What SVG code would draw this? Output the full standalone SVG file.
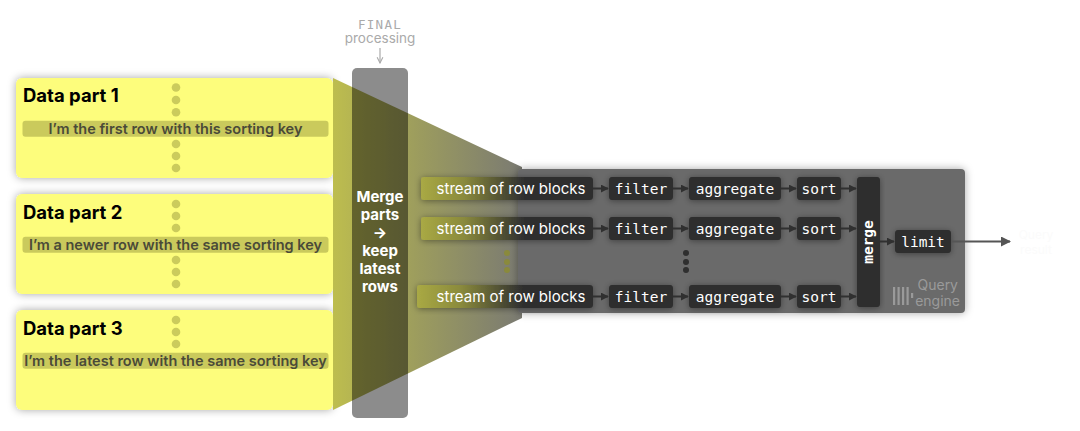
<svg xmlns="http://www.w3.org/2000/svg" width="1080" height="431" viewBox="0 0 1080 431">
<style>
.part{fill:#fdfd7b}
.title{font-family:Inter,"Liberation Sans",sans-serif;font-weight:700;font-size:18.5px;fill:#000}
.rowbar{fill:#caca5c}
.rowtxt{font-family:Inter,"Liberation Sans",sans-serif;font-weight:600;font-size:14.5px;fill:#4a4a38}
.dot{fill:#cbcb5c}
.mtxt{font-family:Inter,"Liberation Sans",sans-serif;font-weight:700;font-size:15px;fill:#fff}
.stxt{font-family:Inter,"Liberation Sans",sans-serif;font-size:15px;fill:#fff}
.op{fill:#2f2f2f}
.otxt{font-family:"DejaVu Sans Mono","Liberation Mono",monospace;font-size:14.5px;fill:#fff}
.arr{stroke:#303030;stroke-width:2;fill:none}
.logo{font-family:Inter,"Liberation Sans",sans-serif;font-size:14px;fill:#9a9a9a}
</style>
<defs>
<filter id="sh" x="-20%" y="-30%" width="140%" height="160%">
<feDropShadow dx="0" dy="0" stdDeviation="4" flood-color="#000" flood-opacity="0.35"/>
</filter>
<filter id="sh2" x="-20%" y="-30%" width="140%" height="160%">
<feDropShadow dx="0" dy="1" stdDeviation="3" flood-color="#000" flood-opacity="0.4"/>
</filter>
<linearGradient id="fun" x1="333" y1="0" x2="522" y2="0" gradientUnits="userSpaceOnUse">
<stop offset="0" stop-color="#bdbd4e"/>
<stop offset="0.45" stop-color="#9c9c5e"/>
<stop offset="1" stop-color="#7a7a72"/>
</linearGradient>
<linearGradient id="str" x1="0" y1="0" x2="1" y2="0">
<stop offset="0" stop-color="#a9a944"/>
<stop offset="0.25" stop-color="#8a8a3c"/>
<stop offset="0.6" stop-color="#2f2f2f"/>
<stop offset="1" stop-color="#2f2f2f"/>
</linearGradient>
<marker id="ah" viewBox="0 0 10 10" refX="9" refY="5" markerWidth="4" markerHeight="4" orient="auto">
<path d="M0,0 L10,5 L0,10 z" fill="#303030"/>
</marker>
<marker id="ah2" viewBox="0 0 10 10" refX="9" refY="5" markerWidth="5" markerHeight="5" orient="auto">
<path d="M0,0 L10,5 L0,10 z" fill="#555"/>
</marker>
<marker id="ah3" viewBox="0 0 10 10" refX="9" refY="5" markerWidth="6" markerHeight="6" orient="auto">
<path d="M1,1 L9,5 L1,9" fill="none" stroke="#aaa" stroke-width="1.5"/>
</marker>
</defs>
<rect width="1080" height="431" fill="#fff"/>

<g id="part1">
<rect class="part" x="16" y="78" width="317" height="100" rx="6" filter="url(#sh)"/>
<text class="title" x="23" y="102">Data part 1</text>
<circle class="dot" cx="176" cy="87.5" r="4.3"/>
<circle class="dot" cx="176" cy="100" r="4.3"/>
<circle class="dot" cx="176" cy="112.3" r="4.3"/>
<rect class="rowbar" x="22.5" y="120.7" width="306" height="16" rx="3"/>
<text class="rowtxt" x="175.5" y="133.5" text-anchor="middle">I’m the first row with this sorting key</text>
<circle class="dot" cx="176" cy="144" r="4.3"/>
<circle class="dot" cx="176" cy="156" r="4.3"/>
<circle class="dot" cx="176" cy="168" r="4.3"/>
</g>

<g id="part2">
<rect class="part" x="16" y="194" width="317" height="100" rx="6" filter="url(#sh)"/>
<text class="title" x="23" y="219">Data part 2</text>
<circle class="dot" cx="176" cy="204" r="4.3"/>
<circle class="dot" cx="176" cy="216" r="4.3"/>
<circle class="dot" cx="176" cy="228" r="4.3"/>
<rect class="rowbar" x="22.5" y="236.7" width="306" height="16" rx="3"/>
<text class="rowtxt" x="175.5" y="249.5" text-anchor="middle">I’m a newer row with the same sorting key</text>
<circle class="dot" cx="176" cy="260" r="4.3"/>
<circle class="dot" cx="176" cy="272" r="4.3"/>
<circle class="dot" cx="176" cy="284" r="4.3"/>
</g>

<g id="part3">
<rect class="part" x="16" y="310" width="317" height="100" rx="6" filter="url(#sh)"/>
<text class="title" x="23" y="335">Data part 3</text>
<circle class="dot" cx="176" cy="320" r="4.3"/>
<circle class="dot" cx="176" cy="332" r="4.3"/>
<circle class="dot" cx="176" cy="344" r="4.3"/>
<rect class="rowbar" x="22.5" y="352.7" width="306" height="16" rx="3"/>
<text class="rowtxt" x="175.5" y="365.5" text-anchor="middle">I’m the latest row with the same sorting key</text>
</g>

<g id="funnel">
<polygon points="333,78 522,167 522,318 333,410" fill="url(#fun)"/>
</g>

<g id="engine">
<rect x="518" y="169" width="447" height="144" rx="4" fill="#6b6b6b" filter="url(#sh)"/>
<g fill="#9a9a9a">
<rect x="893" y="287" width="2.2" height="18"/>
<rect x="897.5" y="287" width="2.2" height="18"/>
<rect x="902" y="287" width="2.2" height="18"/>
<rect x="906.5" y="287" width="2.2" height="18"/>
<rect x="911" y="293" width="2.2" height="5"/>
</g>
<text class="logo" x="958" y="290" text-anchor="end">Query</text>
<text class="logo" x="960" y="306" text-anchor="end">engine</text>
</g>

<g id="final">
<text x="380" y="28.5" text-anchor="middle" font-family="'DejaVu Sans Mono','Liberation Mono',monospace" font-size="12.5" letter-spacing="1.3" fill="#aaa">FINAL</text>
<text x="380" y="43" text-anchor="middle" font-family="Inter,'Liberation Sans',sans-serif" font-size="13.5" fill="#aaa">processing</text>
</g>

<g id="mergebar">
<rect x="352" y="68" width="56" height="350" rx="5" fill="#000" fill-opacity="0.45"/>
<text class="mtxt" x="380" y="202" text-anchor="middle">Merge</text>
<text class="mtxt" x="380" y="220" text-anchor="middle">parts</text>
<text class="mtxt" x="380" y="238" text-anchor="middle">→</text>
<text class="mtxt" x="380" y="256" text-anchor="middle">keep</text>
<text class="mtxt" x="380" y="274" text-anchor="middle">latest</text>
<text class="mtxt" x="380" y="292" text-anchor="middle">rows</text>
</g>

<g id="streams">
<rect x="421" y="177" width="172" height="23" rx="3" fill="url(#str)" filter="url(#sh2)"/>
<text class="stxt" x="511" y="193.5" text-anchor="middle">stream of row blocks</text>
<rect x="421" y="217" width="172" height="23" rx="3" fill="url(#str)" filter="url(#sh2)"/>
<text class="stxt" x="511" y="233.5" text-anchor="middle">stream of row blocks</text>
<rect x="417" y="285" width="176" height="23" rx="3" fill="url(#str)" filter="url(#sh2)"/>
<text class="stxt" x="511" y="301.5" text-anchor="middle">stream of row blocks</text>
<g fill="#8a8a3c">
<circle cx="507" cy="253" r="3"/>
<circle cx="507" cy="262" r="3"/>
<circle cx="507" cy="270" r="3"/>
</g>
</g>

<g id="filter">
<rect class="op" x="609" y="177" width="64" height="23" rx="3" filter="url(#sh2)"/>
<text class="otxt" x="641" y="193.5" text-anchor="middle">filter</text>
<rect class="op" x="609" y="217" width="64" height="23" rx="3" filter="url(#sh2)"/>
<text class="otxt" x="641" y="233.5" text-anchor="middle">filter</text>
<rect class="op" x="609" y="285" width="64" height="23" rx="3" filter="url(#sh2)"/>
<text class="otxt" x="641" y="301.5" text-anchor="middle">filter</text>
</g>

<g id="aggregate">
<rect class="op" x="689" y="177" width="92" height="23" rx="3" filter="url(#sh2)"/>
<text class="otxt" x="735" y="193.5" text-anchor="middle">aggregate</text>
<rect class="op" x="689" y="217" width="92" height="23" rx="3" filter="url(#sh2)"/>
<text class="otxt" x="735" y="233.5" text-anchor="middle">aggregate</text>
<rect class="op" x="689" y="285" width="92" height="23" rx="3" filter="url(#sh2)"/>
<text class="otxt" x="735" y="301.5" text-anchor="middle">aggregate</text>
<g fill="#2f2f2f">
<circle cx="686" cy="253" r="3"/>
<circle cx="686" cy="262" r="3"/>
<circle cx="686" cy="270" r="3"/>
</g>
</g>

<g id="sort">
<rect class="op" x="797" y="177" width="44" height="23" rx="3" filter="url(#sh2)"/>
<text class="otxt" x="819" y="193.5" text-anchor="middle">sort</text>
<rect class="op" x="797" y="217" width="44" height="23" rx="3" filter="url(#sh2)"/>
<text class="otxt" x="819" y="233.5" text-anchor="middle">sort</text>
<rect class="op" x="797" y="285" width="44" height="23" rx="3" filter="url(#sh2)"/>
<text class="otxt" x="819" y="301.5" text-anchor="middle">sort</text>
</g>

<g id="merge">
<rect class="op" x="857" y="177" width="23" height="130" rx="3" filter="url(#sh2)"/>
<text class="otxt" x="0" y="0" text-anchor="middle" font-weight="700" transform="translate(873,242) rotate(-90)">merge</text>
</g>

<g id="limit">
<rect class="op" x="895" y="230" width="56" height="23" rx="3" filter="url(#sh2)"/>
<text class="otxt" x="923" y="246.5" text-anchor="middle">limit</text>
</g>

<g id="result">
<text x="1036" y="239" text-anchor="middle" font-family="Inter,'Liberation Sans',sans-serif" font-size="12" fill="#fbfbfb">Query</text>
<text x="1036" y="254" text-anchor="middle" font-family="Inter,'Liberation Sans',sans-serif" font-size="12" fill="#fbfbfb">result</text>
</g>

<g id="connectors">
<line x1="380" y1="48" x2="380" y2="63" stroke="#aaa" stroke-width="1.2" marker-end="url(#ah3)"/>
<line class="arr" x1="593" y1="188.5" x2="608" y2="188.5" marker-end="url(#ah)"/>
<line class="arr" x1="593" y1="228.5" x2="608" y2="228.5" marker-end="url(#ah)"/>
<line class="arr" x1="593" y1="296.5" x2="608" y2="296.5" marker-end="url(#ah)"/>
<line class="arr" x1="673" y1="188.5" x2="688" y2="188.5" marker-end="url(#ah)"/>
<line class="arr" x1="673" y1="228.5" x2="688" y2="228.5" marker-end="url(#ah)"/>
<line class="arr" x1="673" y1="296.5" x2="688" y2="296.5" marker-end="url(#ah)"/>
<line class="arr" x1="781" y1="188.5" x2="796" y2="188.5" marker-end="url(#ah)"/>
<line class="arr" x1="781" y1="228.5" x2="796" y2="228.5" marker-end="url(#ah)"/>
<line class="arr" x1="781" y1="296.5" x2="796" y2="296.5" marker-end="url(#ah)"/>
<line class="arr" x1="841" y1="188.5" x2="856" y2="188.5" marker-end="url(#ah)"/>
<line class="arr" x1="841" y1="228.5" x2="856" y2="228.5" marker-end="url(#ah)"/>
<line class="arr" x1="841" y1="296.5" x2="856" y2="296.5" marker-end="url(#ah)"/>
<line class="arr" x1="880" y1="241.5" x2="894" y2="241.5" marker-end="url(#ah)"/>
<line x1="951" y1="241.5" x2="1010" y2="241.5" stroke="#555" stroke-width="2" marker-end="url(#ah2)"/>
</g>
</svg>
